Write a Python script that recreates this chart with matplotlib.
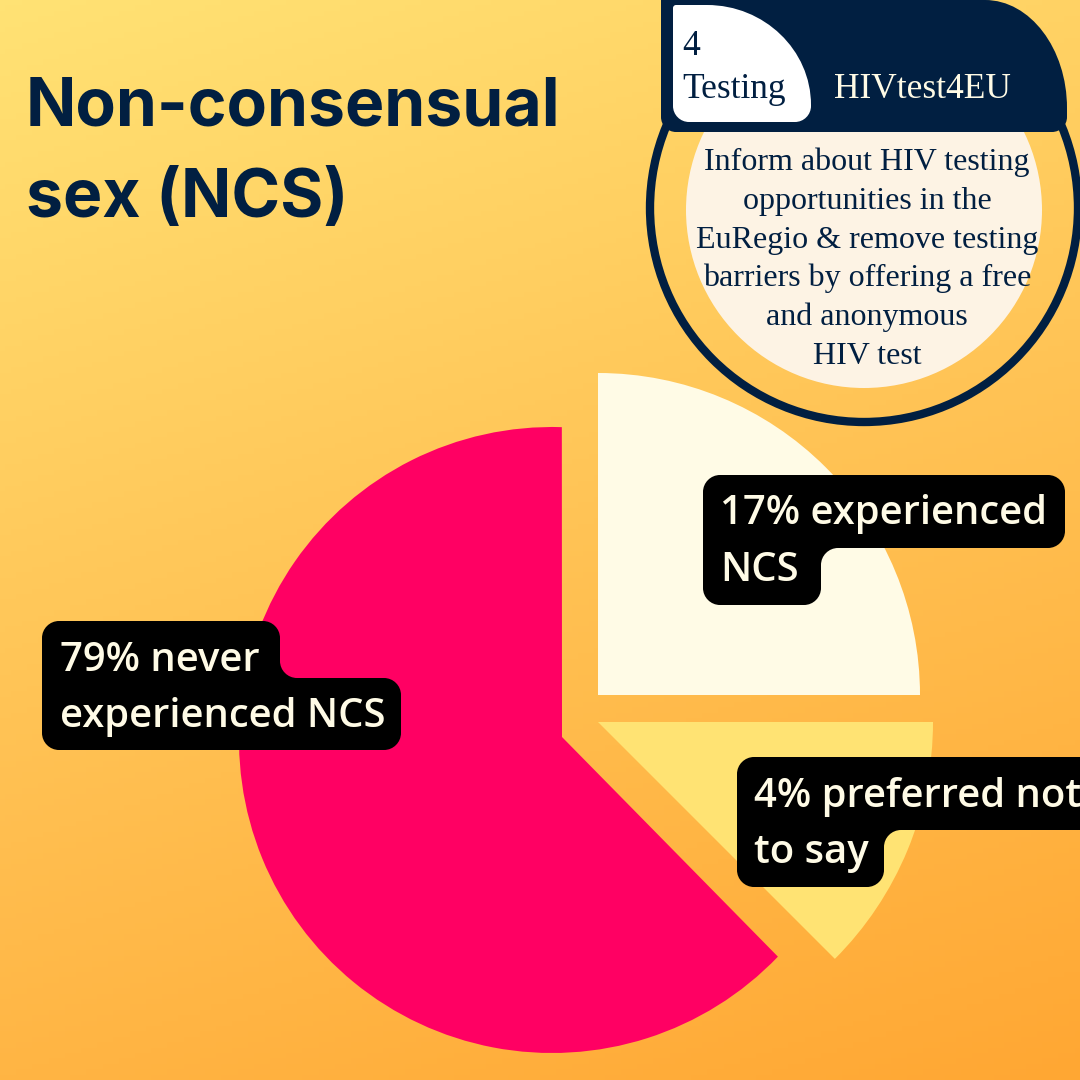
import numpy as np
import matplotlib
matplotlib.use('Agg')
import matplotlib.pyplot as plt
from matplotlib.colors import LinearSegmentedColormap
from matplotlib.patches import Circle, PathPatch
from matplotlib.path import Path

# Data
slice_names = ['never experienced', 'experienced', 'preferred not to say']
slice_sweeps = [228, 90, 45]  # degrees as drawn, not proportional to the labels
slice_labels = [
    ['79% never', 'experienced NCS'],
    ['17% experienced', 'NCS'],
    ['4% preferred not', 'to say'],
]
title_lines = ['Non-consensual', 'sex (NCS)']
tab_lines = ['4', 'Testing']
header_text = 'HIVtest4EU'
body_lines = [
    'Inform about HIV testing',
    'opportunities in the',
    'EuRegio & remove testing',
    'barriers by offering a free',
    'and anonymous',
    'HIV test',
]

NAVY = '#011f41'
CREAM = '#fffbe6'
INK = '#000000'
slice_colors = ['#ff0063', CREAM, '#ffe373']
slice_starts = [-316.2, -90, 0]
slice_centers = [(552, 740), (598, 695), (598, 722)]
slice_radii = [313, 322, 335]
slice_apexes = [(562, 737), (598, 695), (598, 722)]


def rounded_shape(points, radii):
    # closed outline, every corner replaced by a bezier (works for inner corners too)
    k = 0.55
    verts, codes = [], []
    n = len(points)
    for i in range(n):
        p = np.array(points[i], float)
        prev_p = np.array(points[i - 1], float)
        next_p = np.array(points[(i + 1) % n], float)
        r = radii[i]
        r_in, r_out = r if isinstance(r, tuple) else (r, r)
        d_in = (prev_p - p) / np.linalg.norm(prev_p - p)
        d_out = (next_p - p) / np.linalg.norm(next_p - p)
        a = p + d_in * r_in
        b = p + d_out * r_out
        verts.append(a)
        codes.append(Path.MOVETO if i == 0 else Path.LINETO)
        verts += [a - d_in * r_in * k, b - d_out * r_out * k, b]
        codes += [Path.CURVE4] * 3
    verts.append(verts[0])
    codes.append(Path.CLOSEPOLY)
    return Path(verts, codes)


def slice_path(center, radius, theta1, theta2, apex):
    wedge = Path.wedge(theta1, theta2)
    verts = wedge.vertices.copy()
    at_center = np.all(np.abs(verts) < 1e-9, axis=1)
    verts = verts * radius + np.array(center)
    verts[at_center] = apex
    return Path(verts, wedge.codes)


fig = plt.figure(figsize=(10.8, 10.8), dpi=100)
ax = fig.add_axes([0, 0, 1, 1])
ax.set_xlim(0, 1080)
ax.set_ylim(1080, 0)
ax.axis('off')

# background gradient
bg_cmap = LinearSegmentedColormap.from_list('bg', ['#ffe274', '#ffc355', '#ffa733'])
xx, yy = np.meshgrid(np.linspace(0, 1, 200), np.linspace(0, 1, 200))
ax.imshow(0.25 * xx + 0.75 * yy, cmap=bg_cmap, extent=(0, 1080, 1080, 0),
          aspect='auto', zorder=0, vmin=0, vmax=1)

# pie slices, pulled apart
for i in range(len(slice_sweeps)):
    start = slice_starts[i]
    path = slice_path(slice_centers[i], slice_radii[i], start, start + slice_sweeps[i], slice_apexes[i])
    ax.add_patch(PathPatch(path, facecolor=slice_colors[i], edgecolor='none', zorder=2, label=slice_names[i]))

# label boxes
label_boxes = [
    [(42, 621), (280, 621), (280, 678), (401, 678), (401, 750), (42, 750)],
    [(703, 475), (1065, 475), (1065, 548), (821, 548), (821, 605), (703, 605)],
    [(737, 757), (1120, 757), (1120, 830), (884, 830), (884, 887), (737, 887)],
]
label_x = [60, 720, 754]
label_y = [(671, 727), (524, 581), (807, 863)]
for box, x, ys, lines in zip(label_boxes, label_x, label_y, slice_labels):
    ax.add_patch(PathPatch(rounded_shape(box, [17] * len(box)), facecolor=INK, edgecolor='none', zorder=3))
    for y, line in zip(ys, lines):
        ax.text(x, y, line, color=CREAM, fontsize=28.8, family='Open Sans', weight='semibold',
                va='baseline', ha='left', zorder=4, clip_on=True)

# title
for y, line in zip((126, 217), title_lines):
    ax.text(26, y, line, color=NAVY, fontsize=47.5, family='Inter', weight='bold', va='baseline', ha='left')

# badge top right
ax.add_patch(Circle((864, 210), 178, facecolor='#fdf3e4', edgecolor='none', zorder=2))
ax.add_patch(Circle((864, 208), 214, facecolor='none', edgecolor=NAVY, linewidth=6, zorder=2))
header_shape = rounded_shape([(661, -20), (985, -20), (985, 0), (1067, 0), (1067, 132), (661, 132)],
                             [1, 1, 0.5, (82, 108), 15, 15])
ax.add_patch(PathPatch(header_shape, facecolor=NAVY, edgecolor='none', zorder=5))
tab = [(673, 5), (811, 5), (811, 122), (673, 122)]
ax.add_patch(PathPatch(rounded_shape(tab, [3, (104, 100), 16, 16]), facecolor='white', edgecolor='none', zorder=6))
for y, line in zip((55, 98), tab_lines):
    ax.text(682, y, line, color=NAVY, fontsize=25.5, family='Liberation Serif', va='baseline', ha='left', zorder=7)
ax.text(834, 98, header_text, color=CREAM, fontsize=25.5, family='Liberation Serif', va='baseline', ha='left', zorder=7)
for y, line in zip((170, 209, 248, 286, 325, 364), body_lines):
    ax.text(867, y, line, color=NAVY, fontsize=23, family='Liberation Serif', va='baseline', ha='center', zorder=7)

fig.savefig('out.png', dpi=100)
